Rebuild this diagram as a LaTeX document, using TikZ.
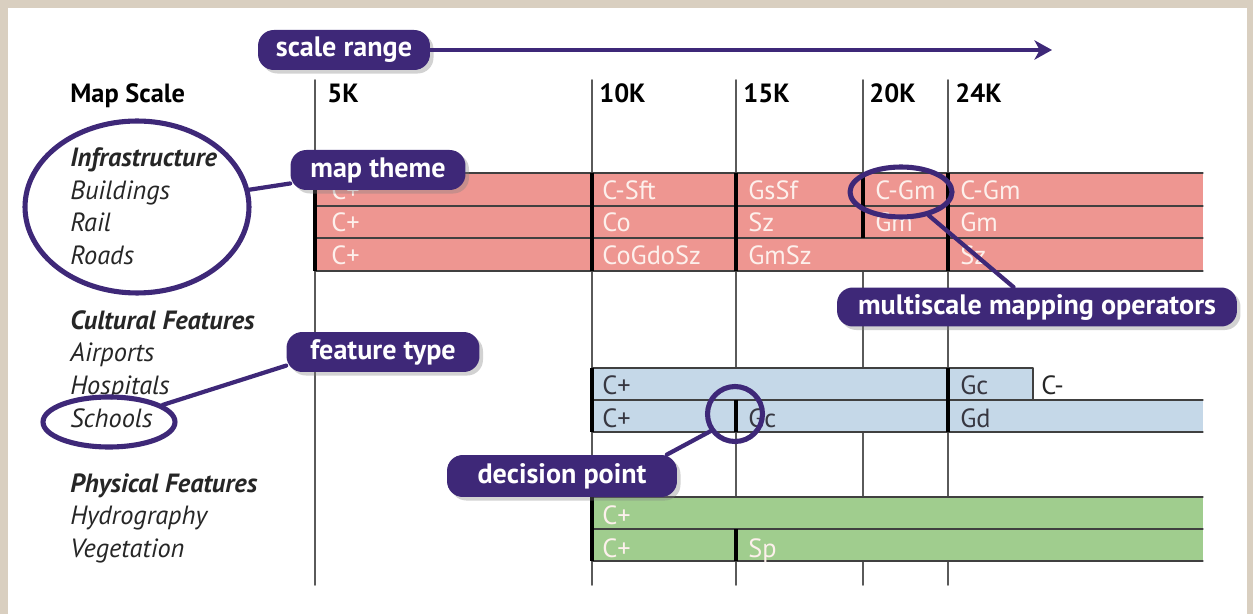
\documentclass[tikz,border=0pt]{standalone}
\usepackage{fontspec}
\setmainfont{PT Sans}
\usetikzlibrary{shapes.geometric,shadows,arrows.meta}

\begin{document}
\begin{tikzpicture}[x=0.02cm, y=-0.02cm, line join=round, line cap=round]
        \definecolor{framecolor}{RGB}{217,207,192}
        \definecolor{calloutcolor}{RGB}{62,40,120}
        \definecolor{themered}{RGB}{238,150,145}
        \definecolor{cultureblue}{RGB}{197,216,232}
        \definecolor{physgreen}{RGB}{160,205,142}
        \definecolor{gridgray}{RGB}{90,90,90}
        \definecolor{lighttext}{RGB}{253,240,236}
        \definecolor{darktext}{RGB}{55,55,65}
        \tikzset{
            callout/.style={fill=calloutcolor, text=white, rounded corners=9pt, inner sep=0pt,
                font=\fontsize{16}{18}\selectfont\bfseries,
                drop shadow={opacity=0.35, shadow xshift=2pt, shadow yshift=-2pt}},
            ring/.style={draw=calloutcolor, line width=2.9pt, ellipse, inner sep=0pt},
            pointer/.style={draw=calloutcolor, line width=2.4pt},
            gridline/.style={draw=gridgray, line width=0.9pt},
            barline/.style={draw=black!75, line width=0.7pt},
            splitmark/.style={draw=black, line width=2.3pt, line cap=butt},
            rowlabel/.style={anchor=base west, inner sep=0pt, text=black!85, font=\fontsize{15}{17}\selectfont\itshape},
            grouplabel/.style={rowlabel, font=\fontsize{15}{17}\selectfont\bfseries\itshape},
            scalelabel/.style={anchor=base west, inner sep=0pt, font=\fontsize{15}{17}\selectfont\bfseries},
            optext/.style={anchor=base west, inner sep=0pt, text=lighttext, font=\fontsize{15}{17}\selectfont},
            opdark/.style={optext, text=darktext}
        }

        \useasboundingbox (0,0) rectangle (1253,614);
        \fill[framecolor] (0,0) rectangle (1253,614);
        \fill[white] (8,8) rectangle (1247,614);

        % scale columns
        \foreach \x in {315,592,736,863,948}
            \draw[gridline] (\x,80) -- (\x,585);
        \node[scalelabel] (mapscale) at (70,103) {Map Scale};
        \foreach \x/\t/\n in {327/5K/s5, 599/10K/s10, 743/15K/s15, 869/20K/s20, 955/24K/s24}
            \node[scalelabel] (\n) at (\x,103) {\t};

        % infrastructure bands
        \fill[themered] (315,173) rectangle (1203,271);
        \foreach \y in {173,206,238,271}
            \draw[barline] (315,\y) -- (1203,\y);
        \draw[splitmark] (315,173) -- (315,271);
        \draw[splitmark] (592,173) -- (592,271);
        \draw[splitmark] (736,173) -- (736,271);
        \draw[splitmark] (863,173) -- (863,238);
        \draw[splitmark] (948,173) -- (948,271);

        % cultural bands
        \fill[cultureblue] (592,368) rectangle (1033,400);
        \fill[cultureblue] (592,400) rectangle (1203,432);
        \draw[barline] (592,368) -- (1033,368) -- (1033,400);
        \draw[barline] (592,400) -- (1203,400);
        \draw[barline] (592,432) -- (1203,432);
        \draw[splitmark] (592,368) -- (592,432);
        \draw[splitmark] (736,400) -- (736,432);
        \draw[splitmark] (948,368) -- (948,432);

        % physical bands
        \fill[physgreen] (592,497) rectangle (1203,561);
        \foreach \y in {497,529,561}
            \draw[barline] (592,\y) -- (1203,\y);
        \draw[splitmark] (592,497) -- (592,561);
        \draw[splitmark] (736,529) -- (736,561);

        % operators
        \foreach \x/\t/\n in {331/C+/ba, 602/C-Sft/bb, 748/GsSf/bc, 875/C-Gm/bd, 960/C-Gm/be}
            \node[optext] (\n) at (\x,200) {\t};
        \foreach \x/\t/\n in {331/C+/ra, 602/Co/rb, 748/Sz/rc, 875/Gm/rd, 960/Gm/re}
            \node[optext] (\n) at (\x,232) {\t};
        \foreach \x/\t/\n in {331/C+/da, 602/CoGdoSz/db, 748/GmSz/dc, 960/Sz/dd}
            \node[optext] (\n) at (\x,265) {\t};
        \node[opdark] (ha) at (602,395) {C+};
        \node[opdark] (hb) at (960,395) {Gc};
        \node[opdark, text=black!85] (hc) at (1041,395) {C-};
        \node[opdark] (sa) at (602,427) {C+};
        \node[opdark] (sb) at (748,427) {Gc};
        \node[opdark] (sc) at (960,427) {Gd};
        \node[optext] (ya) at (602,524) {C+};
        \node[optext] (va) at (602,557) {C+};
        \node[optext] (vb) at (748,557) {Sp};

        % themes and feature types
        \node[grouplabel] (infra) at (70,167) {Infrastructure};
        \node[rowlabel] (build) at (70,200) {Buildings};
        \node[rowlabel] (rail) at (70,232) {Rail};
        \node[rowlabel] (roads) at (70,265) {Roads};
        \node[grouplabel] (cult) at (70,330) {Cultural Features};
        \node[rowlabel] (airp) at (70,362) {Airports};
        \node[rowlabel] (hosp) at (70,395) {Hospitals};
        \node[rowlabel] (schools) at (70,427) {Schools};
        \node[grouplabel] (phys) at (70,492) {Physical Features};
        \node[rowlabel] (hydro) at (70,524) {Hydrography};
        \node[rowlabel] (veg) at (70,557) {Vegetation};

        % callouts
        \node[ring, minimum width=4.48cm, minimum height=3.44cm] (themering) at (137,207) {};
        \node[ring, minimum width=2.64cm, minimum height=1.0cm] (typering) at (109,422) {};
        \node[ring, minimum width=2.04cm, minimum height=1.0cm] (opring) at (901,192) {};
        \node[ring, minimum width=1.1cm, minimum height=1.1cm] (decring) at (735,414) {};

        \node[callout, minimum width=3.44cm, minimum height=0.8cm] (rangebox) at (344,50) {scale range};
        \node[callout, minimum width=3.5cm, minimum height=0.8cm] (themebox) at (378,170) {map theme};
        \node[callout, minimum width=3.86cm, minimum height=0.8cm] (typebox) at (383,352) {feature type};
        \node[callout, minimum width=4.6cm, minimum height=0.84cm] (decbox) at (562,476) {decision point};
        \node[callout, minimum width=8cm, minimum height=0.78cm] (opbox) at (1037,307) {multiscale mapping operators};

        \coordinate (rangeend) at (1052,50);
        \draw[pointer, line width=2.8pt, -{Stealth[length=10pt, width=11pt, inset=3pt]}] (rangebox.east) -- (rangeend);
        \draw[pointer] (themering) -- (themebox);
        \draw[pointer] (typering) -- (typebox.188);
        \draw[pointer] (decring.215) -- ([xshift=-6pt]decbox.north east);
        \draw[pointer] (opring) -- (opbox);
    \end{tikzpicture}
\end{document}
